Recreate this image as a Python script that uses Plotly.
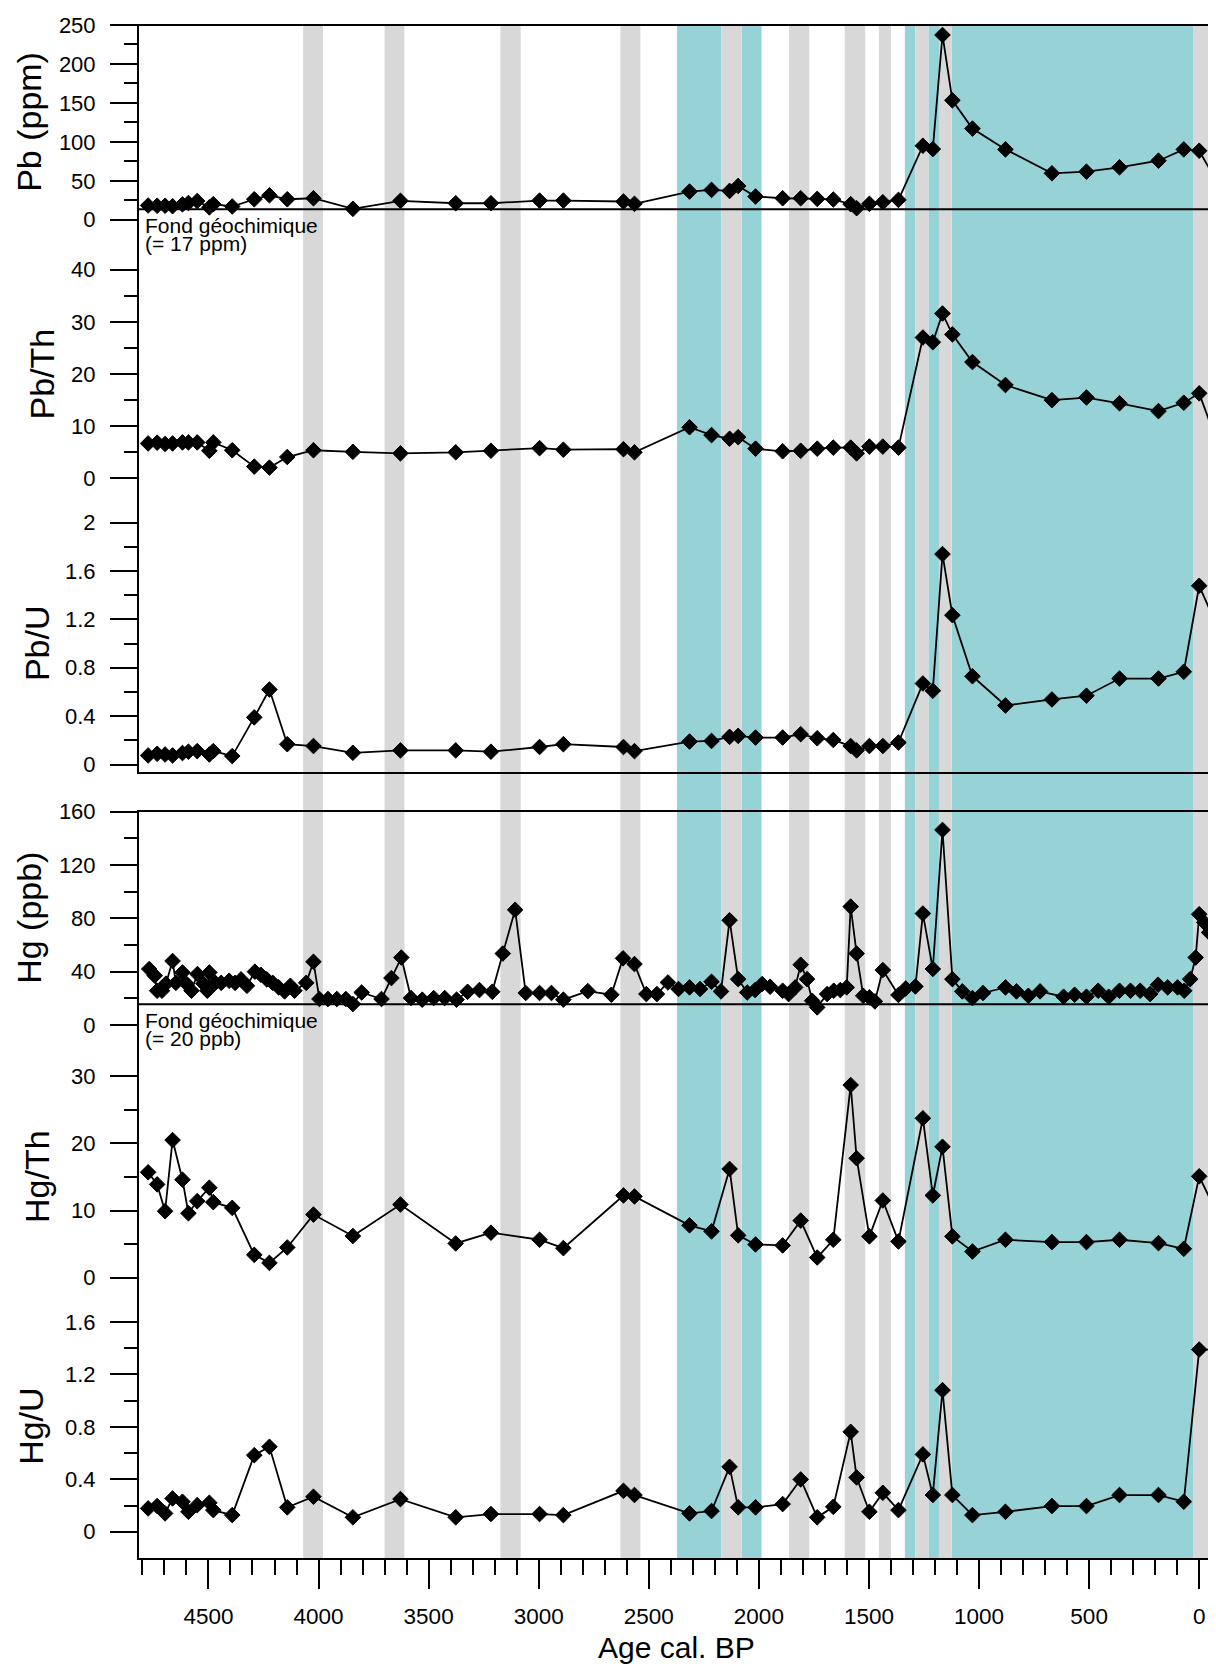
import plotly.graph_objects as go

# ---------------- data ----------------
ages = [4774, 4733, 4697, 4663, 4618, 4591, 4551, 4496, 4478, 4392, 4292, 4223, 4142, 4023, 3844, 3628, 3377, 3217, 2996, 2888,
        2615, 2565, 2315, 2215, 2133, 2094, 2015, 1892, 1810, 1735, 1662, 1583, 1556, 1498, 1437, 1366, 1255, 1210, 1166, 1121,
        1030, 880, 669, 512, 362, 185, 70, 0, -54]

pb = [18.3, 18.0, 18.0, 17.4, 19.8, 21.5, 24.0, 15.9, 20.0, 17.0, 26.3, 31.4, 26.3, 27.6, 14.0, 24.3, 21.2, 21.2, 24.6, 24.6,
      23.4, 20.4, 36.2, 38.3, 37.0, 43.4, 29.8, 27.6, 27.6, 26.8, 26.0, 20.0, 14.8, 20.4, 22.5, 25.5, 95.0, 90.7, 237.2, 153.3,
      117.0, 90.3, 59.6, 61.7, 67.3, 75.8, 90.3, 88.6, 61.7]

pb_th = [6.7, 6.85, 6.6, 6.7, 6.9, 6.9, 6.9, 5.3, 6.9, 5.4, 2.26, 2.07, 4.1, 5.4, 5.1, 4.8, 5.0, 5.3, 5.8, 5.5,
         5.6, 5.0, 9.8, 8.3, 7.6, 7.9, 5.7, 5.2, 5.3, 5.7, 5.9, 5.9, 4.8, 6.1, 6.1, 5.9, 27.0, 26.1, 31.6, 27.6,
         22.3, 17.9, 15.0, 15.5, 14.4, 12.9, 14.5, 16.3, 10.1]

pb_u = [0.075, 0.089, 0.083, 0.075, 0.095, 0.106, 0.111, 0.083, 0.111, 0.07, 0.39, 0.62, 0.168, 0.153, 0.097, 0.117, 0.117, 0.106, 0.145, 0.168,
        0.145, 0.111, 0.19, 0.195, 0.229, 0.237, 0.223, 0.223, 0.251, 0.217, 0.203, 0.153, 0.117, 0.153, 0.153, 0.182, 0.67, 0.61, 1.74, 1.235,
        0.73, 0.488, 0.538, 0.569, 0.711, 0.711, 0.767, 1.478, 1.255]

hg_th = [15.7, 13.9, 9.9, 20.5, 14.6, 9.6, 11.4, 13.4, 11.25, 10.4, 3.4, 2.2, 4.5, 9.4, 6.2, 10.9, 5.1, 6.7, 5.65, 4.4,
         12.25, 12.1, 7.8, 6.9, 16.2, 6.3, 4.95, 4.8, 8.5, 3.0, 5.65, 28.7, 17.8, 6.15, 11.5, 5.4, 23.75, 12.25, 19.5, 6.15,
         3.9, 5.65, 5.3, 5.3, 5.65, 5.15, 4.3, 15.1, 11.4]

hg_u = [0.178, 0.196, 0.14, 0.254, 0.229, 0.152, 0.203, 0.221, 0.165, 0.127, 0.584, 0.648, 0.186, 0.267, 0.11, 0.249, 0.11, 0.135, 0.135, 0.127,
        0.312, 0.28, 0.14, 0.158, 0.495, 0.186, 0.186, 0.211, 0.399, 0.11, 0.19, 0.762, 0.414, 0.152, 0.297, 0.165, 0.59, 0.28, 1.08, 0.28,
        0.127, 0.152, 0.196, 0.196, 0.28, 0.28, 0.229, 1.39, 1.39]

hg_ages = [4769, 4744, 4733, 4711, 4693, 4663, 4648, 4618, 4604, 4577, 4550, 4523, 4505, 4496, 4469, 4442, 4406, 4379, 4352, 4325,
           4289, 4262, 4235, 4208, 4181, 4154, 4128, 4109, 4056, 4023, 3996, 3957, 3917, 3876, 3844, 3804, 3714, 3669, 3624, 3580,
           3529, 3477, 3427, 3373, 3323, 3269, 3211, 3163, 3107, 3059, 2996, 2942, 2888, 2777, 2670,
           2617, 2565, 2511, 2463, 2413, 2365, 2315, 2267, 2215, 2172, 2133, 2094, 2053, 2017, 1985, 1949, 1892, 1865, 1835, 1810,
           1781, 1758, 1735, 1690, 1660, 1630, 1601, 1583, 1556, 1526, 1498, 1473, 1437, 1366, 1333, 1289, 1255, 1210, 1166, 1121,
           1076, 1030, 982, 880, 830, 776, 723, 616, 566, 512, 459, 411, 362, 312, 268, 223, 187, 143, 98, 68,
           41, 16, 0, -23, -45]

hg = [42, 37, 25.7, 25.7, 31, 48, 31.6, 39.4, 31.6, 25.7, 38.2, 31, 25.7, 39.4, 31.6, 31.6, 33.2, 31.6, 34.2, 29.4,
      40, 37.7, 34.2, 31.6, 28.2, 25.2, 29.4, 25.7, 31.6, 47.4, 19.5, 19.5, 19.5, 19.5, 15.7, 24.4, 19.5, 35.2, 50.6, 20.2,
      19, 20.2, 20.2, 19, 24.9, 26.2, 24.9, 53.6, 86.4, 24, 24, 24, 19, 25.4, 22.7,
      50, 45.7, 23.2, 23.2, 31.9, 27, 28.2, 27, 32.4, 25.2, 78.6, 34.4, 24.4, 26.2, 30.7, 28.7, 25.7, 23.2, 28.2, 45.2,
      34.4, 18.2, 13.2, 23.2, 25.7, 26.2, 28.2, 88.8, 53.6, 21.9, 20.7, 17.7, 41.2, 22.5, 27.4, 28.9, 83.6, 42, 146.3, 34.4,
      25.2, 20.2, 24, 28.2, 25.2, 21.9, 25.2, 21.2, 22.7, 21.2, 25.7, 21.2, 25.7, 25.7, 25.7, 23.2, 30.2, 28.2, 28.2, 25.7,
      34.4, 50.6, 83.1, 76.9, 69.4]

# background reference lines (as drawn)
pb_background = 13.5
hg_background = 15.5

# shaded periods (age start, age end)
gray_start = [4070, 3700, 3174, 2629, 2170, 1863, 1610, 1455, 1289, 1182, 28]
gray_end = [3980, 3610, 3082, 2538, 2078, 1771, 1517, 1400, 1230, 1124, -45]
teal_start = [2372, 2078, 1337, 1230, 1124, -45]
teal_end = [2170, 1988, 1289, 1182, 28, -54]

x_ticks = [0, 500, 1000, 1500, 2000, 2500, 3000, 3500, 4000, 4500]

# ---------------- layout geometry ----------------
# the html body adds an 8 px offset; page pixel coordinates below are of the final screenshot
OFF = 8
W, H = 1216 - OFF, 1667 - OFF
PL, PR, PT, PB = 138, 1211, 23, 1559          # plot area in page pixels
L, T = PL - OFF, PT - OFF
R, B = W + OFF - PR, H + OFF - PB
PW, PH = PR - PL, PB - PT


def py(Y):
    return min(1.0, max(0.0, (PB - Y) / PH))


def py_free(Y):
    return (PB - Y) / PH


def pxp(X):
    return (X - PL) / PW


FONT = "Liberation Sans, Arial, sans-serif"
GRAY = "#D8D8D8"
TEAL = "#96D2D6"

panels = [
    # title, values, x, axis top value, dtick, minor, pixel of zero, pixel of top, title x centre
    ("Pb (ppm)", pb, ages, 250, 50, 25, 218.0, 23.0, 29.5),
    ("Pb/Th", pb_th, ages, 40, 10, 5, 477.0, 268.0, 42.5),
    ("Pb/U", pb_u, ages, 2, 0.4, 0.2, 763.5, 521.3, 36.5),
    ("Hg (ppb)", hg, hg_ages, 160, 40, 20, 1024.3, 810.7, 29.5),
    ("Hg/Th", hg_th, ages, 30, 10, 5, 1277.3, 1075.7, 37.0),
    ("Hg/U", hg_u, ages, 1.6, 0.4, 0.2, 1531.7, 1321.7, 31.0),
]

fig = go.Figure()
layout = dict(
    width=W, height=H,
    margin=dict(l=L, r=R, t=T, b=B, pad=0),
    paper_bgcolor="white", plot_bgcolor="rgba(0,0,0,0)",
    showlegend=False,
    font=dict(family=FONT, color="black"),
    xaxis=dict(
        domain=[0, 1], range=[4820, -53.6], anchor="free", position=0,
        tickmode="array", tickvals=x_ticks, ticktext=[str(v) for v in x_ticks],
        ticks="outside", ticklen=29, tickwidth=2, tickcolor="black",
        minor=dict(dtick=100, tick0=0, ticks="outside", ticklen=15, tickwidth=2, tickcolor="black", showgrid=False),
        showgrid=False, zeroline=False, showline=False,
        tickfont=dict(size=22.5, family=FONT, color="black"), ticklabelstandoff=8,
    ),
)

annotations = []
for i, (title, vals, xs, top, dt, mn, y0pix, y1pix, tx) in enumerate(panels):
    ax = "yaxis" if i == 0 else f"yaxis{i + 1}"
    yref = "y" if i == 0 else f"y{i + 1}"
    layout[ax] = dict(
        domain=[py(y0pix), py(y1pix)], range=[0, top], anchor="free", position=0, side="left",
        tickmode="linear", tick0=0, dtick=dt,
        ticks="outside", ticklen=28, tickwidth=2, tickcolor="black",
        minor=dict(dtick=mn, tick0=0, ticks="outside", ticklen=14, tickwidth=2, tickcolor="black", showgrid=False),
        showgrid=False, zeroline=False, showline=False,
        tickfont=dict(size=22, family=FONT, color="black"), ticklabelstandoff=10,
    )
    fig.add_trace(go.Scatter(
        x=xs, y=vals, xaxis="x", yaxis=yref, mode="lines+markers", cliponaxis=False,
        line=dict(color="black", width=1.8),
        marker=dict(symbol="diamond", size=12, color="black", line=dict(color="black", width=1)),
        hoverinfo="skip",
    ))
    annotations.append(dict(
        text=title, textangle=-90, xref="paper", yref="paper",
        x=pxp(tx), y=py((y0pix + y1pix) / 2), xanchor="center", yanchor="middle",
        showarrow=False, font=dict(size=34, family=FONT, color="black"),
    ))

annotations.append(dict(
    text="Age cal. BP", xref="paper", yref="paper", x=pxp(676), y=py_free(1647.5),
    xanchor="center", yanchor="middle", showarrow=False,
    font=dict(size=30, family=FONT, color="black"),
))

for line1, line2, c1, c2 in [("Fond géochimique", "(= 17 ppm)", 223.5, 241.5),
                             ("Fond géochimique", "(= 20 ppb)", 1019.5, 1038.0)]:
    for txt, yc in ((line1, c1), (line2, c2)):
        annotations.append(dict(
            text=txt, xref="paper", yref="paper", x=pxp(143), y=py(yc),
            xanchor="left", yanchor="middle", showarrow=False,
            font=dict(size=21, family=FONT, color="black"),
        ))

shapes = []
for a0, a1 in zip(teal_start, teal_end):
    shapes.append(dict(type="rect", xref="x", yref="paper", x0=a0, x1=a1, y0=0, y1=1,
                       fillcolor=TEAL, line=dict(width=0), layer="below"))
for a0, a1 in zip(gray_start, gray_end):
    shapes.append(dict(type="rect", xref="x", yref="paper", x0=a0, x1=a1, y0=0, y1=1,
                       fillcolor=GRAY, line=dict(width=0), layer="below"))

# background lines
shapes.append(dict(type="line", xref="paper", yref="y", x0=0, x1=1, y0=pb_background, y1=pb_background,
                   line=dict(color="black", width=2), layer="below"))
shapes.append(dict(type="line", xref="paper", yref="y4", x0=0, x1=1, y0=hg_background, y1=hg_background,
                   line=dict(color="black", width=2), layer="below"))

# frames of the two groups
shapes.append(dict(type="rect", xref="paper", yref="paper", x0=0, x1=1, y0=py(772), y1=1,
                   line=dict(color="black", width=2), fillcolor="rgba(0,0,0,0)", layer="below"))
shapes.append(dict(type="rect", xref="paper", yref="paper", x0=0, x1=1, y0=0, y1=py(810),
                   line=dict(color="black", width=2), fillcolor="rgba(0,0,0,0)", layer="below"))

layout["annotations"] = annotations
layout["shapes"] = shapes
fig.update_layout(**layout)

fig.write_html("out.html")
